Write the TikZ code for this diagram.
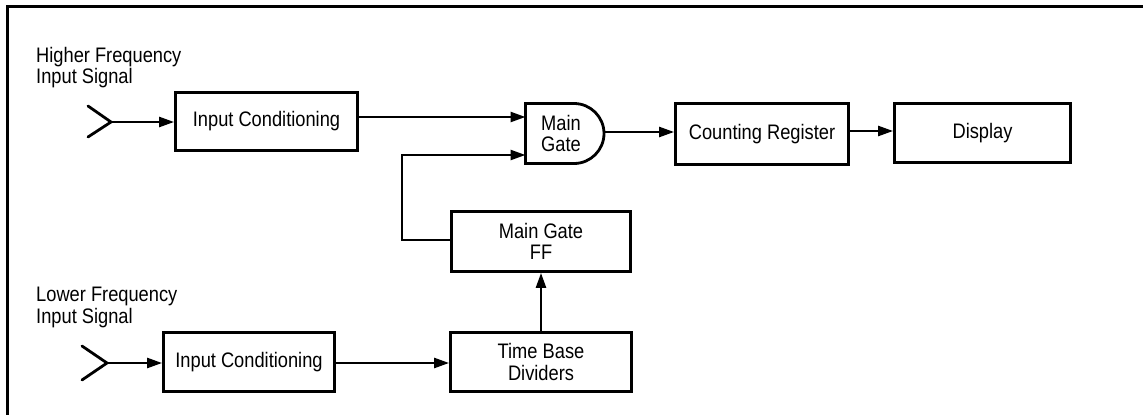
\documentclass[tikz,border=0pt]{standalone}
\usepackage{fontspec}
\setmainfont{Liberation Sans}[FakeStretch=0.87]
\usetikzlibrary{arrows.meta}

\begin{document}
\begin{tikzpicture}[x=1pt,y=-1pt,
  txt/.style={font=\fontsize{21}{21.5}\selectfont},
  blk/.style={txt, draw, line width=2.8pt, inner sep=0pt, align=center},
  wire/.style={line width=2.4pt},
  flow/.style={wire, -{Triangle[length=15pt,width=10pt]}},
  horn/.style={line width=2.8pt, line cap=round}]

\useasboundingbox (0,0) rectangle (1143,415);

% frame (top and left edges only)
\draw[line width=3pt] (1143,6) -- (7,6) -- (7,415);

% input labels
\node[txt, anchor=north west, inner sep=0pt, align=left] (hilab) at (36,47) {Higher Frequency\\Input Signal};
\node[txt, anchor=north west, inner sep=0pt, align=left] (lolab) at (36,287) {Lower Frequency\\Input Signal};

% blocks
\node[blk, minimum width=182pt, minimum height=58pt] (ic1) at (266.5,121.5) {Input Conditioning};
\node[blk, minimum width=179pt, minimum height=60pt] (ff) at (541,241.5) {Main Gate\\FF};
\node[blk, minimum width=173pt, minimum height=61pt] (cr) at (762,134) {Counting Register};
\node[blk, minimum width=176pt, minimum height=59pt] (disp) at (982.5,133) {Display};
\node[blk, minimum width=171pt, minimum height=59pt] (ic2) at (249,362) {Input Conditioning};
\node[blk, minimum width=181pt, minimum height=59pt] (tb) at (541,362) {Time Base\\Dividers};

% AND gate outline and its label
\draw[line width=2.8pt] (525.5,103.5) -- (574,103.5) arc[start angle=90, end angle=-90, radius=30pt] -- (525.5,163.5) -- cycle;
\coordinate (gin) at (525.5,133.5);
\coordinate (gout) at (604,133.5);
\node[txt, align=center, inner sep=0pt] (gate) at (561,133.5) {Main\\Gate};

% input connectors
\coordinate (in1) at (111,122);
\draw[horn] (88,106) -- (in1) -- (88,137);
\draw[flow] (in1) -- (ic1.west |- in1);

\coordinate (in2) at (107,363);
\draw[horn] (82,346) -- (in2) -- (82,380);
\draw[flow] (in2) -- (ic2.west |- in2);

% signal path
\draw[flow] (ic1.east |- 0,117) -- (gin |- 0,117);
\draw[flow] (ff.west |- 0,240) -| (402,155) -- (gin |- 0,155);
\draw[flow] (gout |- 0,132) -- (cr.west |- 0,132);
\draw[flow] (cr.east |- 0,131) -- (disp.west |- 0,131);
\draw[flow] (ic2.east |- 0,363) -- (tb.west |- 0,363);
\draw[flow] (tb.north) -- (ff.south);

\end{tikzpicture}
\end{document}
